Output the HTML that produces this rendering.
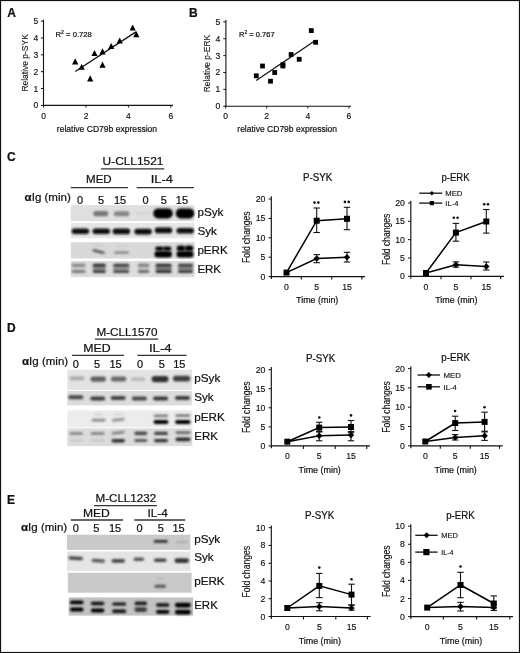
<!DOCTYPE html>
<html><head><meta charset="utf-8"><style>
html,body{margin:0;padding:0;background:#fff;}
svg{display:block;will-change:transform;}
text{font-family:"Liberation Sans",sans-serif;fill:#111;stroke:#111;stroke-width:0.22px;}
text.s{stroke-width:0.15px;}
text.m{stroke-width:0.12px;}
</style></head><body>
<svg width="520" height="653" viewBox="0 0 520 653">
<defs><filter id="b10" x="-50%" y="-100%" width="200%" height="300%"><feGaussianBlur stdDeviation="1.0"/></filter><filter id="b11" x="-50%" y="-100%" width="200%" height="300%"><feGaussianBlur stdDeviation="1.1"/></filter><filter id="b8" x="-50%" y="-100%" width="200%" height="300%"><feGaussianBlur stdDeviation="0.8"/></filter><filter id="b9" x="-50%" y="-100%" width="200%" height="300%"><feGaussianBlur stdDeviation="0.9"/></filter></defs>
<rect x="0" y="0" width="520" height="653" fill="#fff"/>
<text x="7.2" y="16.8" font-size="12" font-weight="bold">A</text>
<text x="189.1" y="16.7" font-size="12" font-weight="bold">B</text>
<text x="6.9" y="160.9" font-size="12" font-weight="bold">C</text>
<text x="6.9" y="331.5" font-size="12" font-weight="bold">D</text>
<text x="6.9" y="503.8" font-size="12" font-weight="bold">E</text>
<line x1="43.5" y1="19.6" x2="43.5" y2="105.9" stroke="#111" stroke-width="1.1"/>
<line x1="43" y1="105.4" x2="173" y2="105.4" stroke="#111" stroke-width="1.1"/>
<line x1="40.9" y1="105.4" x2="43.5" y2="105.4" stroke="#111" stroke-width="1"/>
<text x="38.2" y="108.4" font-size="8.5" class="s" text-anchor="end">0</text>
<line x1="40.9" y1="88.54" x2="43.5" y2="88.54" stroke="#111" stroke-width="1"/>
<text x="38.2" y="91.54" font-size="8.5" class="s" text-anchor="end">1</text>
<line x1="40.9" y1="71.68" x2="43.5" y2="71.68" stroke="#111" stroke-width="1"/>
<text x="38.2" y="74.68" font-size="8.5" class="s" text-anchor="end">2</text>
<line x1="40.9" y1="54.82" x2="43.5" y2="54.82" stroke="#111" stroke-width="1"/>
<text x="38.2" y="57.82" font-size="8.5" class="s" text-anchor="end">3</text>
<line x1="40.9" y1="37.96" x2="43.5" y2="37.96" stroke="#111" stroke-width="1"/>
<text x="38.2" y="40.96" font-size="8.5" class="s" text-anchor="end">4</text>
<line x1="40.9" y1="21.1" x2="43.5" y2="21.1" stroke="#111" stroke-width="1"/>
<text x="38.2" y="24.1" font-size="8.5" class="s" text-anchor="end">5</text>
<line x1="43.6" y1="105.4" x2="43.6" y2="107.6" stroke="#111" stroke-width="1"/>
<text x="43.6" y="118.9" font-size="8.5" class="s" text-anchor="middle">0</text>
<line x1="86" y1="105.4" x2="86" y2="107.6" stroke="#111" stroke-width="1"/>
<text x="86" y="118.9" font-size="8.5" class="s" text-anchor="middle">2</text>
<line x1="128.4" y1="105.4" x2="128.4" y2="107.6" stroke="#111" stroke-width="1"/>
<text x="128.4" y="118.9" font-size="8.5" class="s" text-anchor="middle">4</text>
<line x1="170.8" y1="105.4" x2="170.8" y2="107.6" stroke="#111" stroke-width="1"/>
<text x="170.8" y="118.9" font-size="8.5" class="s" text-anchor="middle">6</text>
<text transform="translate(27.8 62.9) rotate(-90)" x="0" y="0" font-size="9.8" text-anchor="middle" class="m" textLength="57.4" lengthAdjust="spacingAndGlyphs">Relative p-SYK</text>
<text x="106.95" y="132.2" font-size="9.7" text-anchor="middle" textLength="100.3" lengthAdjust="spacingAndGlyphs">relative CD79b expression</text>
<text x="55.6" y="36.7" font-size="7.4" textLength="36.2" lengthAdjust="spacingAndGlyphs">R<tspan font-size="5" dy="-3">2</tspan><tspan dy="3"> = 0.728</tspan></text>
<line x1="75.2" y1="71.5" x2="135.9" y2="31.9" stroke="#111" stroke-width="1.3"/>
<path d="M75.2 58.3L78.3 64.4L72.1 64.4Z" fill="#000"/>
<path d="M81.7 63.7L84.8 69.8L78.6 69.8Z" fill="#000"/>
<path d="M90.2 75.3L93.3 81.4L87.1 81.4Z" fill="#000"/>
<path d="M94.5 50L97.6 56.1L91.4 56.1Z" fill="#000"/>
<path d="M102.5 48.3L105.6 54.4L99.4 54.4Z" fill="#000"/>
<path d="M102.5 61.6L105.6 67.7L99.4 67.7Z" fill="#000"/>
<path d="M111.2 42.9L114.3 49L108.1 49Z" fill="#000"/>
<path d="M119.7 37.4L122.8 43.5L116.6 43.5Z" fill="#000"/>
<path d="M132.7 24.4L135.8 30.5L129.6 30.5Z" fill="#000"/>
<path d="M136.3 31.1L139.4 37.2L133.2 37.2Z" fill="#000"/>
<line x1="225.9" y1="19.9" x2="225.9" y2="106.7" stroke="#111" stroke-width="1.1"/>
<line x1="225.4" y1="106.2" x2="351" y2="106.2" stroke="#111" stroke-width="1.1"/>
<line x1="223.3" y1="106.2" x2="225.9" y2="106.2" stroke="#111" stroke-width="1"/>
<text x="220.3" y="109.2" font-size="8.5" class="s" text-anchor="end">0</text>
<line x1="223.3" y1="89.34" x2="225.9" y2="89.34" stroke="#111" stroke-width="1"/>
<text x="220.3" y="92.34" font-size="8.5" class="s" text-anchor="end">1</text>
<line x1="223.3" y1="72.48" x2="225.9" y2="72.48" stroke="#111" stroke-width="1"/>
<text x="220.3" y="75.48" font-size="8.5" class="s" text-anchor="end">2</text>
<line x1="223.3" y1="55.62" x2="225.9" y2="55.62" stroke="#111" stroke-width="1"/>
<text x="220.3" y="58.62" font-size="8.5" class="s" text-anchor="end">3</text>
<line x1="223.3" y1="38.76" x2="225.9" y2="38.76" stroke="#111" stroke-width="1"/>
<text x="220.3" y="41.76" font-size="8.5" class="s" text-anchor="end">4</text>
<line x1="223.3" y1="21.9" x2="225.9" y2="21.9" stroke="#111" stroke-width="1"/>
<text x="220.3" y="24.9" font-size="8.5" class="s" text-anchor="end">5</text>
<line x1="225.6" y1="106.2" x2="225.6" y2="108.4" stroke="#111" stroke-width="1"/>
<text x="225.6" y="118.9" font-size="8.5" class="s" text-anchor="middle">0</text>
<line x1="266.7" y1="106.2" x2="266.7" y2="108.4" stroke="#111" stroke-width="1"/>
<text x="266.7" y="118.9" font-size="8.5" class="s" text-anchor="middle">2</text>
<line x1="307.8" y1="106.2" x2="307.8" y2="108.4" stroke="#111" stroke-width="1"/>
<text x="307.8" y="118.9" font-size="8.5" class="s" text-anchor="middle">4</text>
<line x1="348.9" y1="106.2" x2="348.9" y2="108.4" stroke="#111" stroke-width="1"/>
<text x="348.9" y="118.9" font-size="8.5" class="s" text-anchor="middle">6</text>
<text transform="translate(209.5 63.6) rotate(-90)" x="0" y="0" font-size="9.8" text-anchor="middle" class="m" textLength="57.5" lengthAdjust="spacingAndGlyphs">Relative p-ERK</text>
<text x="287.2" y="132.2" font-size="9.7" text-anchor="middle" textLength="99.8" lengthAdjust="spacingAndGlyphs">relative CD79b expression</text>
<text x="239" y="36.7" font-size="7.4" textLength="35.6" lengthAdjust="spacingAndGlyphs">R<tspan font-size="5" dy="-3">2</tspan><tspan dy="3"> = 0.767</tspan></text>
<line x1="256.2" y1="80.5" x2="314.2" y2="41.2" stroke="#111" stroke-width="1.3"/>
<rect x="253.9" y="73.4" width="4.8" height="4.8" fill="#000"/>
<rect x="260.1" y="63.6" width="4.8" height="4.8" fill="#000"/>
<rect x="268.1" y="78.8" width="4.8" height="4.8" fill="#000"/>
<rect x="272.3" y="70.1" width="4.8" height="4.8" fill="#000"/>
<rect x="280.5" y="62.3" width="4.8" height="4.8" fill="#000"/>
<rect x="280.5" y="63.6" width="4.8" height="4.8" fill="#000"/>
<rect x="288.7" y="52.1" width="4.8" height="4.8" fill="#000"/>
<rect x="296.8" y="56.9" width="4.8" height="4.8" fill="#000"/>
<rect x="308.9" y="28.2" width="4.8" height="4.8" fill="#000"/>
<rect x="313.2" y="39.9" width="4.8" height="4.8" fill="#000"/>
<text x="133" y="165" font-size="11" text-anchor="middle" textLength="60.8" lengthAdjust="spacingAndGlyphs">U-CLL1521</text>
<line x1="101.1" y1="168.8" x2="164.2" y2="168.8" stroke="#333" stroke-width="1.3"/>
<text x="98.85" y="183.3" font-size="11" text-anchor="middle" textLength="25.7" lengthAdjust="spacingAndGlyphs">MED</text>
<text x="161.9" y="183.3" font-size="11" text-anchor="middle" textLength="22.2" lengthAdjust="spacingAndGlyphs">IL-4</text>
<line x1="70.8" y1="187.6" x2="127.9" y2="187.6" stroke="#333" stroke-width="1.3"/>
<line x1="136.7" y1="187.6" x2="193.8" y2="187.6" stroke="#333" stroke-width="1.3"/>
<text x="80" y="203.8" font-size="11" text-anchor="middle">0</text>
<text x="101" y="203.8" font-size="11" text-anchor="middle">5</text>
<text x="120" y="203.8" font-size="11" text-anchor="middle">15</text>
<text x="145.6" y="203.8" font-size="11" text-anchor="middle">0</text>
<text x="163.8" y="203.8" font-size="11" text-anchor="middle">5</text>
<text x="181.9" y="203.8" font-size="11" text-anchor="middle">15</text>
<text x="24.6" y="200.8" font-size="11.4" textLength="46.2" lengthAdjust="spacingAndGlyphs"><tspan font-weight="bold">&#945;</tspan>Ig (min)</text>
<rect x="70.8" y="205.2" width="123.6" height="16" fill="#dfdfdf"/>
<rect x="70.8" y="223" width="123.6" height="15.2" fill="#e6e6e6"/>
<rect x="70.8" y="242.2" width="123.8" height="16.3" fill="#d9d9d9"/>
<rect x="70.8" y="261" width="123.8" height="16.2" fill="#dddddd"/>
<rect x="93.3" y="211" width="15" height="5.2" rx="2.6" fill="#767676" filter="url(#b11)"/>
<rect x="113.85" y="211.2" width="15.5" height="5" rx="2.5" fill="#848484" filter="url(#b11)"/>
<rect x="153.25" y="208.4" width="19.5" height="10" rx="5" fill="#040404" filter="url(#b10)"/>
<rect x="175.75" y="208.4" width="18.5" height="10" rx="5" fill="#040404" filter="url(#b10)"/>
<rect x="136.5" y="212.1" width="13" height="3" rx="1.5" fill="#d4d4d4" filter="url(#b8)"/>
<rect x="71.65" y="228.4" width="17.5" height="5.6" rx="2.8" fill="#080808" filter="url(#b8)"/>
<rect x="92.55" y="228.4" width="17.5" height="5.6" rx="2.8" fill="#080808" filter="url(#b8)"/>
<rect x="112.65" y="228.6" width="17.5" height="5.6" rx="2.8" fill="#080808" filter="url(#b8)"/>
<rect x="134.35" y="228.8" width="17.5" height="5.6" rx="2.8" fill="#080808" filter="url(#b8)"/>
<rect x="154.75" y="227.6" width="17.5" height="5.6" rx="2.8" fill="#080808" filter="url(#b8)"/>
<rect x="176.45" y="228" width="17.5" height="5.6" rx="2.8" fill="#080808" filter="url(#b8)"/>
<rect x="92.35" y="250.2" width="12.5" height="2.8" rx="1.4" fill="#5a5a5a" filter="url(#b8)" transform="rotate(14 98.6 251.6)"/>
<rect x="93.6" y="244.8" width="10" height="1.6" rx="0.8" fill="#c8c8c8" filter="url(#b8)"/>
<rect x="114.1" y="251.2" width="15" height="2.8" rx="1.4" fill="#909090" filter="url(#b8)"/>
<rect x="116.6" y="245.6" width="10" height="1.6" rx="0.8" fill="#cacaca" filter="url(#b8)"/>
<rect x="155.25" y="246.4" width="8.5" height="4.4" rx="2.2" fill="#050505" filter="url(#b10)"/>
<rect x="162.95" y="246.4" width="8.5" height="4.4" rx="2.2" fill="#050505" filter="url(#b10)"/>
<rect x="154.45" y="251" width="17.5" height="6.4" rx="3.2" fill="#030303" filter="url(#b10)"/>
<rect x="176.75" y="245.4" width="8.5" height="5.6" rx="2.8" fill="#030303" filter="url(#b10)"/>
<rect x="184.75" y="245.4" width="8.5" height="5.6" rx="2.8" fill="#030303" filter="url(#b10)"/>
<rect x="176.5" y="250.9" width="17" height="6.6" rx="3.3" fill="#030303" filter="url(#b10)"/>
<rect x="71.6" y="265.8" width="14" height="5" rx="2.5" fill="#d0d0d0" filter="url(#b10)"/>
<rect x="71.6" y="263.8" width="14" height="3" rx="1.5" fill="#808080" filter="url(#b8)"/>
<rect x="71.6" y="269.9" width="14" height="3" rx="1.5" fill="#7a7a7a" filter="url(#b8)"/>
<rect x="92.8" y="265.8" width="13" height="5" rx="2.5" fill="#909090" filter="url(#b10)"/>
<rect x="92.8" y="263.8" width="13" height="3" rx="1.5" fill="#2a2a2a" filter="url(#b8)"/>
<rect x="92.8" y="269.9" width="13" height="3" rx="1.5" fill="#3a3a3a" filter="url(#b8)"/>
<rect x="113.2" y="265.8" width="16" height="5" rx="2.5" fill="#999" filter="url(#b10)"/>
<rect x="113.2" y="263.8" width="16" height="3" rx="1.5" fill="#3a3a3a" filter="url(#b8)"/>
<rect x="113.2" y="269.9" width="16" height="3" rx="1.5" fill="#4a4a4a" filter="url(#b8)"/>
<rect x="137.85" y="265.8" width="11.5" height="5" rx="2.5" fill="#c8c8c8" filter="url(#b10)"/>
<rect x="137.85" y="263.8" width="11.5" height="3" rx="1.5" fill="#7a7a7a" filter="url(#b8)"/>
<rect x="137.85" y="269.9" width="11.5" height="3" rx="1.5" fill="#6a6a6a" filter="url(#b8)"/>
<rect x="155.6" y="265.8" width="16" height="5" rx="2.5" fill="#808080" filter="url(#b10)"/>
<rect x="155.6" y="263.8" width="16" height="3" rx="1.5" fill="#2c2c2c" filter="url(#b8)"/>
<rect x="155.6" y="269.9" width="16" height="3" rx="1.5" fill="#2c2c2c" filter="url(#b8)"/>
<rect x="178" y="265.8" width="15" height="5" rx="2.5" fill="#858585" filter="url(#b10)"/>
<rect x="178" y="263.8" width="15" height="3" rx="1.5" fill="#3a3a3a" filter="url(#b8)"/>
<rect x="178" y="269.9" width="15" height="3" rx="1.5" fill="#3a3a3a" filter="url(#b8)"/>
<text x="197.4" y="216" font-size="11.4" textLength="26" lengthAdjust="spacingAndGlyphs">pSyk</text>
<text x="197.4" y="235" font-size="11.4" textLength="19.4" lengthAdjust="spacingAndGlyphs">Syk</text>
<text x="197.4" y="254" font-size="11.4" textLength="30.4" lengthAdjust="spacingAndGlyphs">pERK</text>
<text x="197.4" y="272.8" font-size="11.4" textLength="23.6" lengthAdjust="spacingAndGlyphs">ERK</text>
<text x="127" y="336.2" font-size="11" text-anchor="middle" textLength="61" lengthAdjust="spacingAndGlyphs">M-CLL1570</text>
<line x1="95" y1="339.2" x2="158.3" y2="339.2" stroke="#333" stroke-width="1.3"/>
<text x="96.9" y="352.2" font-size="11" text-anchor="middle" textLength="27.4" lengthAdjust="spacingAndGlyphs">MED</text>
<text x="160.3" y="352.2" font-size="11" text-anchor="middle" textLength="22.8" lengthAdjust="spacingAndGlyphs">IL-4</text>
<line x1="72.1" y1="355.4" x2="123.9" y2="355.4" stroke="#333" stroke-width="1.3"/>
<line x1="137.4" y1="355.4" x2="186.5" y2="355.4" stroke="#333" stroke-width="1.3"/>
<text x="75.8" y="367.6" font-size="11" text-anchor="middle">0</text>
<text x="97" y="367.6" font-size="11" text-anchor="middle">5</text>
<text x="115.6" y="367.6" font-size="11" text-anchor="middle">15</text>
<text x="140.1" y="367.6" font-size="11" text-anchor="middle">0</text>
<text x="161.9" y="367.6" font-size="11" text-anchor="middle">5</text>
<text x="179.3" y="367.6" font-size="11" text-anchor="middle">15</text>
<text x="22" y="364.8" font-size="11.4" textLength="46.2" lengthAdjust="spacingAndGlyphs"><tspan font-weight="bold">&#945;</tspan>Ig (min)</text>
<rect x="67.4" y="369.7" width="124.4" height="20.2" fill="#e3e3e3"/>
<rect x="67.4" y="391" width="124.4" height="14.4" fill="#dcdcdc"/>
<rect x="67.4" y="410.3" width="124.9" height="17" fill="#ececec"/>
<rect x="67.4" y="428.3" width="124.9" height="17.8" fill="#dcdcdc"/>
<rect x="69.5" y="376.4" width="15" height="3.8" rx="1.9" fill="#a8a8a8" filter="url(#b10)"/>
<rect x="90.45" y="376.5" width="15.5" height="5.2" rx="2.6" fill="#5e5e5e" filter="url(#b10)"/>
<rect x="110.85" y="376.5" width="15.5" height="5" rx="2.5" fill="#686868" filter="url(#b10)"/>
<rect x="130.75" y="377.5" width="14.5" height="3.6" rx="1.8" fill="#bababa" filter="url(#b10)"/>
<rect x="151.6" y="376" width="17" height="6.2" rx="3.1" fill="#303030" filter="url(#b10)"/>
<rect x="172.85" y="375.7" width="17.5" height="5.8" rx="2.9" fill="#404040" filter="url(#b10)"/>
<rect x="68.3" y="395.2" width="15" height="4" rx="2" fill="#444" filter="url(#b8)"/>
<rect x="90.2" y="396.4" width="15" height="4" rx="2" fill="#3c3c3c" filter="url(#b8)"/>
<rect x="110.7" y="396" width="15" height="4" rx="2" fill="#424242" filter="url(#b8)"/>
<rect x="131.9" y="396.6" width="15" height="4" rx="2" fill="#464646" filter="url(#b8)"/>
<rect x="153.1" y="396.4" width="15" height="4" rx="2" fill="#383838" filter="url(#b8)"/>
<rect x="175" y="396" width="15" height="4" rx="2" fill="#3c3c3c" filter="url(#b8)"/>
<rect x="91.6" y="418.8" width="14" height="2.8" rx="1.4" fill="#8a8a8a" filter="url(#b8)"/>
<rect x="93.6" y="413.6" width="10" height="1.6" rx="0.8" fill="#cdcdcd" filter="url(#b8)"/>
<rect x="111.8" y="418.4" width="13" height="2.8" rx="1.4" fill="#8e8e8e" filter="url(#b8)" transform="rotate(-6 118.3 419.8)"/>
<rect x="113.3" y="413.4" width="10" height="1.6" rx="0.8" fill="#cdcdcd" filter="url(#b8)"/>
<rect x="153.75" y="414.4" width="14.5" height="2.8" rx="1.4" fill="#7c7c7c" filter="url(#b8)"/>
<rect x="153.5" y="419.9" width="15" height="4.2" rx="2.1" fill="#050505" filter="url(#b8)"/>
<rect x="175.3" y="414.2" width="15" height="2.8" rx="1.4" fill="#7c7c7c" filter="url(#b8)"/>
<rect x="175.05" y="419.9" width="15.5" height="4.2" rx="2.1" fill="#050505" filter="url(#b8)"/>
<rect x="69.45" y="431.9" width="13.5" height="3" rx="1.5" fill="#8a8a8a" filter="url(#b8)"/>
<rect x="69.45" y="439" width="13.5" height="2.6" rx="1.3" fill="#c8c8c8" filter="url(#b8)"/>
<rect x="90.6" y="431.9" width="14" height="3" rx="1.5" fill="#888" filter="url(#b8)"/>
<rect x="90.6" y="439" width="14" height="2.6" rx="1.3" fill="#c6c6c6" filter="url(#b8)"/>
<rect x="111.7" y="431.5" width="13" height="2.6" rx="1.3" fill="#7a7a7a" filter="url(#b8)" transform="rotate(-6 118.2 432.8)"/>
<rect x="111.45" y="439" width="13.5" height="3.6" rx="1.8" fill="#2e2e2e" filter="url(#b8)"/>
<rect x="134.3" y="431.6" width="13" height="3.6" rx="1.8" fill="#4c4c4c" filter="url(#b8)"/>
<rect x="134.3" y="439" width="13" height="3" rx="1.5" fill="#565656" filter="url(#b8)"/>
<rect x="154" y="431.8" width="14" height="3.2" rx="1.6" fill="#404040" filter="url(#b8)"/>
<rect x="154" y="438.9" width="14" height="3.4" rx="1.7" fill="#303030" filter="url(#b8)"/>
<rect x="175.5" y="431.2" width="15" height="2.8" rx="1.4" fill="#666" filter="url(#b8)"/>
<rect x="175.5" y="437.6" width="15" height="3.6" rx="1.8" fill="#2a2a2a" filter="url(#b8)"/>
<text x="194.3" y="381.9" font-size="11.4" textLength="26" lengthAdjust="spacingAndGlyphs">pSyk</text>
<text x="194.3" y="401" font-size="11.4" textLength="19.4" lengthAdjust="spacingAndGlyphs">Syk</text>
<text x="194.3" y="421.2" font-size="11.4" textLength="30.4" lengthAdjust="spacingAndGlyphs">pERK</text>
<text x="194.3" y="440.4" font-size="11.4" textLength="23.6" lengthAdjust="spacingAndGlyphs">ERK</text>
<text x="125.8" y="501.6" font-size="11" text-anchor="middle" textLength="60.6" lengthAdjust="spacingAndGlyphs">M-CLL1232</text>
<line x1="94" y1="505.7" x2="156.9" y2="505.7" stroke="#333" stroke-width="1.3"/>
<text x="96.35" y="516.9" font-size="11" text-anchor="middle" textLength="26.9" lengthAdjust="spacingAndGlyphs">MED</text>
<text x="157.6" y="516.9" font-size="11" text-anchor="middle" textLength="20.2" lengthAdjust="spacingAndGlyphs">IL-4</text>
<line x1="70.8" y1="520" x2="123.1" y2="520" stroke="#333" stroke-width="1.3"/>
<line x1="134.3" y1="520" x2="185.2" y2="520" stroke="#333" stroke-width="1.3"/>
<text x="75.8" y="531.7" font-size="11" text-anchor="middle">0</text>
<text x="96.4" y="531.7" font-size="11" text-anchor="middle">5</text>
<text x="115" y="531.7" font-size="11" text-anchor="middle">15</text>
<text x="139.5" y="531.7" font-size="11" text-anchor="middle">0</text>
<text x="160.8" y="531.7" font-size="11" text-anchor="middle">5</text>
<text x="178.5" y="531.7" font-size="11" text-anchor="middle">15</text>
<text x="21" y="530.6" font-size="11.4" textLength="46.2" lengthAdjust="spacingAndGlyphs"><tspan font-weight="bold">&#945;</tspan>Ig (min)</text>
<rect x="67" y="534.7" width="123.3" height="15.2" fill="#c9c9c9"/>
<rect x="67" y="551.5" width="123.3" height="19.5" fill="#e5e5e5"/>
<rect x="67.8" y="572.7" width="123.8" height="20" fill="#c9c9c9"/>
<rect x="68.7" y="597.4" width="124.3" height="18.2" fill="#c2c2c2"/>
<rect x="153.8" y="540.1" width="14" height="2.6" rx="1.3" fill="#2e2e2e" filter="url(#b8)"/>
<rect x="176.05" y="541.2" width="11.5" height="1.8" rx="0.9" fill="#a8a8a8" filter="url(#b8)"/>
<rect x="68.55" y="556.5" width="14.5" height="3.6" rx="1.8" fill="#4a4a4a" filter="url(#b9)" transform="rotate(3 75.8 558.3)"/>
<rect x="91.55" y="559" width="13.5" height="3.4" rx="1.7" fill="#5a5a5a" filter="url(#b9)" transform="rotate(4 98.3 560.7)"/>
<rect x="111.55" y="559.1" width="13.5" height="3.6" rx="1.8" fill="#464646" filter="url(#b9)"/>
<rect x="133.55" y="557.6" width="10.5" height="3.4" rx="1.7" fill="#5a5a5a" filter="url(#b9)"/>
<rect x="153.95" y="558.6" width="12.5" height="3.4" rx="1.7" fill="#444" filter="url(#b9)"/>
<rect x="174.55" y="558.2" width="14.5" height="4.8" rx="2.4" fill="#363636" filter="url(#b9)"/>
<rect x="154.45" y="584.8" width="11.5" height="3" rx="1.5" fill="#555" filter="url(#b8)"/>
<rect x="156.2" y="577.8" width="8" height="1.6" rx="0.8" fill="#b5b5b5" filter="url(#b8)"/>
<rect x="70.05" y="600.5" width="13.5" height="3.8" rx="1.9" fill="#060606" filter="url(#b8)"/>
<rect x="70.05" y="607.6" width="13.5" height="3.8" rx="1.9" fill="#060606" filter="url(#b8)"/>
<rect x="90.85" y="601.8" width="13.5" height="3.4" rx="1.7" fill="#0a0a0a" filter="url(#b8)"/>
<rect x="90.85" y="608.6" width="13.5" height="3.8" rx="1.9" fill="#060606" filter="url(#b8)"/>
<rect x="112.2" y="602.6" width="14" height="3" rx="1.5" fill="#141414" filter="url(#b8)"/>
<rect x="112.2" y="609.6" width="14" height="3.4" rx="1.7" fill="#0a0a0a" filter="url(#b8)"/>
<rect x="134.55" y="601.5" width="12.5" height="3.8" rx="1.9" fill="#1e1e1e" filter="url(#b8)"/>
<rect x="134.55" y="607.3" width="12.5" height="4.6" rx="2.3" fill="#3a3a3a" filter="url(#b8)"/>
<rect x="156" y="603.3" width="13.4" height="3.4" rx="1.7" fill="#0a0a0a" filter="url(#b8)"/>
<rect x="156" y="609.9" width="13.4" height="3.8" rx="1.9" fill="#060606" filter="url(#b8)"/>
<rect x="174.9" y="602.8" width="16" height="4.6" rx="2.3" fill="#020202" filter="url(#b8)"/>
<rect x="174.9" y="609.8" width="16" height="4.6" rx="2.3" fill="#020202" filter="url(#b8)"/>
<text x="194.2" y="543.3" font-size="11.4" textLength="26" lengthAdjust="spacingAndGlyphs">pSyk</text>
<text x="194.2" y="561.2" font-size="11.4" textLength="19.4" lengthAdjust="spacingAndGlyphs">Syk</text>
<text x="194.2" y="585.1" font-size="11.4" textLength="30.4" lengthAdjust="spacingAndGlyphs">pERK</text>
<text x="194.2" y="609.1" font-size="11.4" textLength="23.6" lengthAdjust="spacingAndGlyphs">ERK</text>
<line x1="271.3" y1="196.3" x2="271.3" y2="279" stroke="#111" stroke-width="1.15"/>
<line x1="270.8" y1="276.6" x2="365.1" y2="276.6" stroke="#111" stroke-width="1.15"/>
<line x1="268.5" y1="276.6" x2="271.3" y2="276.6" stroke="#111" stroke-width="1"/>
<text x="265.3" y="279.6" font-size="8.7" class="s" text-anchor="end">0</text>
<line x1="268.5" y1="257.2" x2="271.3" y2="257.2" stroke="#111" stroke-width="1"/>
<text x="265.3" y="260.2" font-size="8.7" class="s" text-anchor="end">5</text>
<line x1="268.5" y1="237.8" x2="271.3" y2="237.8" stroke="#111" stroke-width="1"/>
<text x="265.3" y="240.8" font-size="8.7" class="s" text-anchor="end">10</text>
<line x1="268.5" y1="218.4" x2="271.3" y2="218.4" stroke="#111" stroke-width="1"/>
<text x="265.3" y="221.4" font-size="8.7" class="s" text-anchor="end">15</text>
<line x1="268.5" y1="199" x2="271.3" y2="199" stroke="#111" stroke-width="1"/>
<text x="265.3" y="202" font-size="8.7" class="s" text-anchor="end">20</text>
<line x1="301.4" y1="276.6" x2="301.4" y2="279.6" stroke="#111" stroke-width="1.1"/>
<line x1="331.7" y1="276.6" x2="331.7" y2="279.6" stroke="#111" stroke-width="1.1"/>
<line x1="361.9" y1="276.6" x2="361.9" y2="279.6" stroke="#111" stroke-width="1.1"/>
<text x="286.5" y="290" font-size="8.7" class="s" text-anchor="middle">0</text>
<text x="316.7" y="290" font-size="8.7" class="s" text-anchor="middle">5</text>
<text x="347" y="290" font-size="8.7" class="s" text-anchor="middle">15</text>
<text x="317.7" y="180.8" font-size="10.6" text-anchor="middle" textLength="29.4" lengthAdjust="spacingAndGlyphs">P-SYK</text>
<text transform="translate(250.3 237.25) rotate(-90)" x="0" y="0" font-size="10.4" text-anchor="middle" class="m" textLength="51.5" lengthAdjust="spacingAndGlyphs">Fold changes</text>
<text x="317.2" y="302.7" font-size="9.9" text-anchor="middle" textLength="42.3" lengthAdjust="spacingAndGlyphs">Time (min)</text>
<line x1="316.7" y1="208" x2="316.7" y2="232.5" stroke="#111" stroke-width="1.1"/>
<line x1="313.5" y1="208" x2="319.9" y2="208" stroke="#111" stroke-width="1.1"/>
<line x1="313.5" y1="232.5" x2="319.9" y2="232.5" stroke="#111" stroke-width="1.1"/>
<line x1="347" y1="207.3" x2="347" y2="229.7" stroke="#111" stroke-width="1.1"/>
<line x1="343.8" y1="207.3" x2="350.2" y2="207.3" stroke="#111" stroke-width="1.1"/>
<line x1="343.8" y1="229.7" x2="350.2" y2="229.7" stroke="#111" stroke-width="1.1"/>
<line x1="316.7" y1="254.6" x2="316.7" y2="262.7" stroke="#111" stroke-width="1.1"/>
<line x1="313.5" y1="254.6" x2="319.9" y2="254.6" stroke="#111" stroke-width="1.1"/>
<line x1="313.5" y1="262.7" x2="319.9" y2="262.7" stroke="#111" stroke-width="1.1"/>
<line x1="347" y1="252.3" x2="347" y2="262" stroke="#111" stroke-width="1.1"/>
<line x1="343.8" y1="252.3" x2="350.2" y2="252.3" stroke="#111" stroke-width="1.1"/>
<line x1="343.8" y1="262" x2="350.2" y2="262" stroke="#111" stroke-width="1.1"/>
<polyline points="286.5,272.6 316.7,220.7 347,218.8" fill="none" stroke="#000" stroke-width="1.5"/>
<polyline points="286.5,272.6 316.7,258.5 347,257.2" fill="none" stroke="#000" stroke-width="1.5"/>
<path d="M316.7 255.3L319.9 258.5L316.7 261.7L313.5 258.5Z" fill="#000"/>
<path d="M347 254L350.2 257.2L347 260.4L343.8 257.2Z" fill="#000"/>
<rect x="283.5" y="269.6" width="6" height="6" fill="#000"/>
<rect x="313.7" y="217.7" width="6" height="6" fill="#000"/>
<rect x="344" y="215.8" width="6" height="6" fill="#000"/>
<circle cx="314.5" cy="202.6" r="1.3" fill="#111"/>
<circle cx="318.3" cy="202.6" r="1.3" fill="#111"/>
<circle cx="344.9" cy="201.9" r="1.3" fill="#111"/>
<circle cx="348.7" cy="201.9" r="1.3" fill="#111"/>
<line x1="410.8" y1="200.8" x2="410.8" y2="278.7" stroke="#111" stroke-width="1.15"/>
<line x1="410.3" y1="276.3" x2="503.9" y2="276.3" stroke="#111" stroke-width="1.15"/>
<line x1="408" y1="276.3" x2="410.8" y2="276.3" stroke="#111" stroke-width="1"/>
<text x="404.8" y="279.3" font-size="8.7" class="s" text-anchor="end">0</text>
<line x1="408" y1="257.98" x2="410.8" y2="257.98" stroke="#111" stroke-width="1"/>
<text x="404.8" y="260.98" font-size="8.7" class="s" text-anchor="end">5</text>
<line x1="408" y1="239.65" x2="410.8" y2="239.65" stroke="#111" stroke-width="1"/>
<text x="404.8" y="242.65" font-size="8.7" class="s" text-anchor="end">10</text>
<line x1="408" y1="221.32" x2="410.8" y2="221.32" stroke="#111" stroke-width="1"/>
<text x="404.8" y="224.32" font-size="8.7" class="s" text-anchor="end">15</text>
<line x1="408" y1="203" x2="410.8" y2="203" stroke="#111" stroke-width="1"/>
<text x="404.8" y="206" font-size="8.7" class="s" text-anchor="end">20</text>
<line x1="441" y1="276.3" x2="441" y2="279.3" stroke="#111" stroke-width="1.1"/>
<line x1="471" y1="276.3" x2="471" y2="279.3" stroke="#111" stroke-width="1.1"/>
<line x1="500.7" y1="276.3" x2="500.7" y2="279.3" stroke="#111" stroke-width="1.1"/>
<text x="426" y="290" font-size="8.7" class="s" text-anchor="middle">0</text>
<text x="455.9" y="290" font-size="8.7" class="s" text-anchor="middle">5</text>
<text x="486.3" y="290" font-size="8.7" class="s" text-anchor="middle">15</text>
<text x="455.5" y="180.8" font-size="10.6" text-anchor="middle" textLength="28" lengthAdjust="spacingAndGlyphs">p-ERK</text>
<text transform="translate(389.8 239.35) rotate(-90)" x="0" y="0" font-size="10.4" text-anchor="middle" class="m" textLength="51.5" lengthAdjust="spacingAndGlyphs">Fold changes</text>
<text x="456.4" y="302.7" font-size="9.9" text-anchor="middle" textLength="42.3" lengthAdjust="spacingAndGlyphs">Time (min)</text>
<line x1="455.9" y1="223.4" x2="455.9" y2="241.2" stroke="#111" stroke-width="1.1"/>
<line x1="452.7" y1="223.4" x2="459.1" y2="223.4" stroke="#111" stroke-width="1.1"/>
<line x1="452.7" y1="241.2" x2="459.1" y2="241.2" stroke="#111" stroke-width="1.1"/>
<line x1="486.3" y1="209.5" x2="486.3" y2="233.1" stroke="#111" stroke-width="1.1"/>
<line x1="483.1" y1="209.5" x2="489.5" y2="209.5" stroke="#111" stroke-width="1.1"/>
<line x1="483.1" y1="233.1" x2="489.5" y2="233.1" stroke="#111" stroke-width="1.1"/>
<line x1="455.9" y1="261.9" x2="455.9" y2="267.2" stroke="#111" stroke-width="1.1"/>
<line x1="452.7" y1="261.9" x2="459.1" y2="261.9" stroke="#111" stroke-width="1.1"/>
<line x1="452.7" y1="267.2" x2="459.1" y2="267.2" stroke="#111" stroke-width="1.1"/>
<line x1="486.3" y1="262" x2="486.3" y2="270" stroke="#111" stroke-width="1.1"/>
<line x1="483.1" y1="262" x2="489.5" y2="262" stroke="#111" stroke-width="1.1"/>
<line x1="483.1" y1="270" x2="489.5" y2="270" stroke="#111" stroke-width="1.1"/>
<polyline points="426,273 455.9,232.6 486.3,221.5" fill="none" stroke="#000" stroke-width="1.5"/>
<polyline points="426,273 455.9,264.7 486.3,266.5" fill="none" stroke="#000" stroke-width="1.5"/>
<path d="M455.9 261.5L459.1 264.7L455.9 267.9L452.7 264.7Z" fill="#000"/>
<path d="M486.3 263.3L489.5 266.5L486.3 269.7L483.1 266.5Z" fill="#000"/>
<rect x="423" y="270" width="6" height="6" fill="#000"/>
<rect x="452.9" y="229.6" width="6" height="6" fill="#000"/>
<rect x="483.3" y="218.5" width="6" height="6" fill="#000"/>
<circle cx="453.8" cy="217.7" r="1.3" fill="#111"/>
<circle cx="457.6" cy="217.7" r="1.3" fill="#111"/>
<circle cx="484.2" cy="204.2" r="1.3" fill="#111"/>
<circle cx="488" cy="204.2" r="1.3" fill="#111"/>
<line x1="419.2" y1="193.2" x2="442.3" y2="193.2" stroke="#111" stroke-width="1.3"/>
<path d="M431.9 191L434.1 193.2L431.9 195.4L429.7 193.2Z" fill="#000"/>
<text x="445.3" y="196.2" font-size="8" class="s" textLength="17.1" lengthAdjust="spacingAndGlyphs">MED</text>
<line x1="419.2" y1="203.1" x2="442.3" y2="203.1" stroke="#111" stroke-width="1.3"/>
<rect x="429.8" y="201" width="4.2" height="4.2" fill="#000"/>
<text x="445.3" y="206.1" font-size="8" class="s" textLength="13.2" lengthAdjust="spacingAndGlyphs">IL-4</text>
<line x1="271.3" y1="366.9" x2="271.3" y2="448.3" stroke="#111" stroke-width="1.15"/>
<line x1="270.8" y1="445.9" x2="370" y2="445.9" stroke="#111" stroke-width="1.15"/>
<line x1="268.5" y1="445.9" x2="271.3" y2="445.9" stroke="#111" stroke-width="1"/>
<text x="265.3" y="448.9" font-size="8.7" class="s" text-anchor="end">0</text>
<line x1="268.5" y1="426.85" x2="271.3" y2="426.85" stroke="#111" stroke-width="1"/>
<text x="265.3" y="429.85" font-size="8.7" class="s" text-anchor="end">5</text>
<line x1="268.5" y1="407.8" x2="271.3" y2="407.8" stroke="#111" stroke-width="1"/>
<text x="265.3" y="410.8" font-size="8.7" class="s" text-anchor="end">10</text>
<line x1="268.5" y1="388.75" x2="271.3" y2="388.75" stroke="#111" stroke-width="1"/>
<text x="265.3" y="391.75" font-size="8.7" class="s" text-anchor="end">15</text>
<line x1="268.5" y1="369.7" x2="271.3" y2="369.7" stroke="#111" stroke-width="1"/>
<text x="265.3" y="372.7" font-size="8.7" class="s" text-anchor="end">20</text>
<line x1="303.4" y1="445.9" x2="303.4" y2="448.9" stroke="#111" stroke-width="1.1"/>
<line x1="335.2" y1="445.9" x2="335.2" y2="448.9" stroke="#111" stroke-width="1.1"/>
<line x1="366.8" y1="445.9" x2="366.8" y2="448.9" stroke="#111" stroke-width="1.1"/>
<text x="287.3" y="459.4" font-size="8.7" class="s" text-anchor="middle">0</text>
<text x="319.2" y="459.4" font-size="8.7" class="s" text-anchor="middle">5</text>
<text x="351" y="459.4" font-size="8.7" class="s" text-anchor="middle">15</text>
<text x="320.6" y="361.7" font-size="10.6" text-anchor="middle" textLength="29.4" lengthAdjust="spacingAndGlyphs">P-SYK</text>
<text transform="translate(250.3 407.2) rotate(-90)" x="0" y="0" font-size="10.4" text-anchor="middle" class="m" textLength="51.5" lengthAdjust="spacingAndGlyphs">Fold changes</text>
<text x="319.7" y="472.6" font-size="9.9" text-anchor="middle" textLength="42.3" lengthAdjust="spacingAndGlyphs">Time (min)</text>
<line x1="319.2" y1="422.3" x2="319.2" y2="431.5" stroke="#111" stroke-width="1.1"/>
<line x1="316" y1="422.3" x2="322.4" y2="422.3" stroke="#111" stroke-width="1.1"/>
<line x1="316" y1="431.5" x2="322.4" y2="431.5" stroke="#111" stroke-width="1.1"/>
<line x1="351" y1="420.5" x2="351" y2="431.5" stroke="#111" stroke-width="1.1"/>
<line x1="347.8" y1="420.5" x2="354.2" y2="420.5" stroke="#111" stroke-width="1.1"/>
<line x1="347.8" y1="431.5" x2="354.2" y2="431.5" stroke="#111" stroke-width="1.1"/>
<line x1="319.2" y1="432" x2="319.2" y2="440.8" stroke="#111" stroke-width="1.1"/>
<line x1="316" y1="432" x2="322.4" y2="432" stroke="#111" stroke-width="1.1"/>
<line x1="316" y1="440.8" x2="322.4" y2="440.8" stroke="#111" stroke-width="1.1"/>
<line x1="351" y1="432.7" x2="351" y2="440.8" stroke="#111" stroke-width="1.1"/>
<line x1="347.8" y1="432.7" x2="354.2" y2="432.7" stroke="#111" stroke-width="1.1"/>
<line x1="347.8" y1="440.8" x2="354.2" y2="440.8" stroke="#111" stroke-width="1.1"/>
<polyline points="287.3,441.7 319.2,427.6 351,427" fill="none" stroke="#000" stroke-width="1.5"/>
<polyline points="287.3,441.7 319.2,435.7 351,435" fill="none" stroke="#000" stroke-width="1.5"/>
<path d="M319.2 432.5L322.4 435.7L319.2 438.9L316 435.7Z" fill="#000"/>
<path d="M351 431.8L354.2 435L351 438.2L347.8 435Z" fill="#000"/>
<rect x="284.3" y="438.7" width="6" height="6" fill="#000"/>
<rect x="316.2" y="424.6" width="6" height="6" fill="#000"/>
<rect x="348" y="424" width="6" height="6" fill="#000"/>
<circle cx="319.3" cy="417.5" r="1.3" fill="#111"/>
<circle cx="351" cy="415.4" r="1.3" fill="#111"/>
<line x1="410.8" y1="366.5" x2="410.8" y2="448.2" stroke="#111" stroke-width="1.15"/>
<line x1="410.3" y1="445.8" x2="502.7" y2="445.8" stroke="#111" stroke-width="1.15"/>
<line x1="408" y1="445.8" x2="410.8" y2="445.8" stroke="#111" stroke-width="1"/>
<text x="404.8" y="448.8" font-size="8.7" class="s" text-anchor="end">0</text>
<line x1="408" y1="426.5" x2="410.8" y2="426.5" stroke="#111" stroke-width="1"/>
<text x="404.8" y="429.5" font-size="8.7" class="s" text-anchor="end">5</text>
<line x1="408" y1="407.2" x2="410.8" y2="407.2" stroke="#111" stroke-width="1"/>
<text x="404.8" y="410.2" font-size="8.7" class="s" text-anchor="end">10</text>
<line x1="408" y1="387.9" x2="410.8" y2="387.9" stroke="#111" stroke-width="1"/>
<text x="404.8" y="390.9" font-size="8.7" class="s" text-anchor="end">15</text>
<line x1="408" y1="368.6" x2="410.8" y2="368.6" stroke="#111" stroke-width="1"/>
<text x="404.8" y="371.6" font-size="8.7" class="s" text-anchor="end">20</text>
<line x1="440.3" y1="445.8" x2="440.3" y2="448.8" stroke="#111" stroke-width="1.1"/>
<line x1="470.3" y1="445.8" x2="470.3" y2="448.8" stroke="#111" stroke-width="1.1"/>
<line x1="499.5" y1="445.8" x2="499.5" y2="448.8" stroke="#111" stroke-width="1.1"/>
<text x="425.3" y="459.4" font-size="8.7" class="s" text-anchor="middle">0</text>
<text x="455.2" y="459.4" font-size="8.7" class="s" text-anchor="middle">5</text>
<text x="484.6" y="459.4" font-size="8.7" class="s" text-anchor="middle">15</text>
<text x="455.6" y="361.2" font-size="10.6" text-anchor="middle" textLength="28.8" lengthAdjust="spacingAndGlyphs">p-ERK</text>
<text transform="translate(389.8 406.95) rotate(-90)" x="0" y="0" font-size="10.4" text-anchor="middle" class="m" textLength="51.5" lengthAdjust="spacingAndGlyphs">Fold changes</text>
<text x="455.7" y="472.6" font-size="9.9" text-anchor="middle" textLength="42.3" lengthAdjust="spacingAndGlyphs">Time (min)</text>
<line x1="455.2" y1="416.2" x2="455.2" y2="430.5" stroke="#111" stroke-width="1.1"/>
<line x1="452" y1="416.2" x2="458.4" y2="416.2" stroke="#111" stroke-width="1.1"/>
<line x1="452" y1="430.5" x2="458.4" y2="430.5" stroke="#111" stroke-width="1.1"/>
<line x1="484.6" y1="412.2" x2="484.6" y2="431.9" stroke="#111" stroke-width="1.1"/>
<line x1="481.4" y1="412.2" x2="487.8" y2="412.2" stroke="#111" stroke-width="1.1"/>
<line x1="481.4" y1="431.9" x2="487.8" y2="431.9" stroke="#111" stroke-width="1.1"/>
<line x1="455.2" y1="434.6" x2="455.2" y2="440" stroke="#111" stroke-width="1.1"/>
<line x1="452" y1="434.6" x2="458.4" y2="434.6" stroke="#111" stroke-width="1.1"/>
<line x1="452" y1="440" x2="458.4" y2="440" stroke="#111" stroke-width="1.1"/>
<line x1="484.6" y1="431.2" x2="484.6" y2="440.4" stroke="#111" stroke-width="1.1"/>
<line x1="481.4" y1="431.2" x2="487.8" y2="431.2" stroke="#111" stroke-width="1.1"/>
<line x1="481.4" y1="440.4" x2="487.8" y2="440.4" stroke="#111" stroke-width="1.1"/>
<polyline points="425.3,441.5 455.2,423.1 484.6,421.9" fill="none" stroke="#000" stroke-width="1.5"/>
<polyline points="425.3,441.5 455.2,437.4 484.6,435.8" fill="none" stroke="#000" stroke-width="1.5"/>
<path d="M455.2 434.2L458.4 437.4L455.2 440.6L452 437.4Z" fill="#000"/>
<path d="M484.6 432.6L487.8 435.8L484.6 439L481.4 435.8Z" fill="#000"/>
<rect x="422.3" y="438.5" width="6" height="6" fill="#000"/>
<rect x="452.2" y="420.1" width="6" height="6" fill="#000"/>
<rect x="481.6" y="418.9" width="6" height="6" fill="#000"/>
<circle cx="455.1" cy="411" r="1.3" fill="#111"/>
<circle cx="484.5" cy="407.2" r="1.3" fill="#111"/>
<line x1="417.6" y1="375" x2="440" y2="375" stroke="#111" stroke-width="1.3"/>
<path d="M428.8 372L431.8 375L428.8 378L425.8 375Z" fill="#000"/>
<text x="443.5" y="378" font-size="8" class="s" textLength="17.3" lengthAdjust="spacingAndGlyphs">MED</text>
<line x1="417.6" y1="386.8" x2="440" y2="386.8" stroke="#111" stroke-width="1.3"/>
<rect x="426.1" y="384" width="5.6" height="5.6" fill="#000"/>
<text x="443.5" y="389.8" font-size="8" class="s" textLength="13.2" lengthAdjust="spacingAndGlyphs">IL-4</text>
<line x1="271.3" y1="525.4" x2="271.3" y2="618.9" stroke="#111" stroke-width="1.15"/>
<line x1="270.8" y1="616.5" x2="370.6" y2="616.5" stroke="#111" stroke-width="1.15"/>
<line x1="268.5" y1="616.5" x2="271.3" y2="616.5" stroke="#111" stroke-width="1"/>
<text x="265.3" y="619.5" font-size="8.7" class="s" text-anchor="end">0</text>
<line x1="268.5" y1="598.74" x2="271.3" y2="598.74" stroke="#111" stroke-width="1"/>
<text x="265.3" y="601.74" font-size="8.7" class="s" text-anchor="end">2</text>
<line x1="268.5" y1="580.98" x2="271.3" y2="580.98" stroke="#111" stroke-width="1"/>
<text x="265.3" y="583.98" font-size="8.7" class="s" text-anchor="end">4</text>
<line x1="268.5" y1="563.22" x2="271.3" y2="563.22" stroke="#111" stroke-width="1"/>
<text x="265.3" y="566.22" font-size="8.7" class="s" text-anchor="end">6</text>
<line x1="268.5" y1="545.46" x2="271.3" y2="545.46" stroke="#111" stroke-width="1"/>
<text x="265.3" y="548.46" font-size="8.7" class="s" text-anchor="end">8</text>
<line x1="268.5" y1="527.7" x2="271.3" y2="527.7" stroke="#111" stroke-width="1"/>
<text x="265.3" y="530.7" font-size="8.7" class="s" text-anchor="end">10</text>
<line x1="303.5" y1="616.5" x2="303.5" y2="619.5" stroke="#111" stroke-width="1.1"/>
<line x1="335.8" y1="616.5" x2="335.8" y2="619.5" stroke="#111" stroke-width="1.1"/>
<line x1="367.4" y1="616.5" x2="367.4" y2="619.5" stroke="#111" stroke-width="1.1"/>
<text x="287.3" y="630.3" font-size="8.7" class="s" text-anchor="middle">0</text>
<text x="319.3" y="630.3" font-size="8.7" class="s" text-anchor="middle">5</text>
<text x="351.5" y="630.3" font-size="8.7" class="s" text-anchor="middle">15</text>
<text x="319.7" y="518.7" font-size="10.6" text-anchor="middle" textLength="29.4" lengthAdjust="spacingAndGlyphs">P-SYK</text>
<text transform="translate(250.3 571.75) rotate(-90)" x="0" y="0" font-size="10.4" text-anchor="middle" class="m" textLength="51.5" lengthAdjust="spacingAndGlyphs">Fold changes</text>
<text x="319.8" y="643.5" font-size="9.9" text-anchor="middle" textLength="42.3" lengthAdjust="spacingAndGlyphs">Time (min)</text>
<line x1="319.3" y1="573.4" x2="319.3" y2="597.6" stroke="#111" stroke-width="1.1"/>
<line x1="316.1" y1="573.4" x2="322.5" y2="573.4" stroke="#111" stroke-width="1.1"/>
<line x1="316.1" y1="597.6" x2="322.5" y2="597.6" stroke="#111" stroke-width="1.1"/>
<line x1="351.5" y1="584.2" x2="351.5" y2="605" stroke="#111" stroke-width="1.1"/>
<line x1="348.3" y1="584.2" x2="354.7" y2="584.2" stroke="#111" stroke-width="1.1"/>
<line x1="348.3" y1="605" x2="354.7" y2="605" stroke="#111" stroke-width="1.1"/>
<line x1="319.3" y1="602.7" x2="319.3" y2="610.8" stroke="#111" stroke-width="1.1"/>
<line x1="316.1" y1="602.7" x2="322.5" y2="602.7" stroke="#111" stroke-width="1.1"/>
<line x1="316.1" y1="610.8" x2="322.5" y2="610.8" stroke="#111" stroke-width="1.1"/>
<line x1="351.5" y1="605" x2="351.5" y2="610.1" stroke="#111" stroke-width="1.1"/>
<line x1="348.3" y1="605" x2="354.7" y2="605" stroke="#111" stroke-width="1.1"/>
<line x1="348.3" y1="610.1" x2="354.7" y2="610.1" stroke="#111" stroke-width="1.1"/>
<polyline points="287.3,608 319.3,585.9 351.5,594.6" fill="none" stroke="#000" stroke-width="1.5"/>
<polyline points="287.3,608 319.3,606.6 351.5,608" fill="none" stroke="#000" stroke-width="1.5"/>
<path d="M319.3 603.4L322.5 606.6L319.3 609.8L316.1 606.6Z" fill="#000"/>
<path d="M351.5 604.8L354.7 608L351.5 611.2L348.3 608Z" fill="#000"/>
<rect x="284.3" y="605" width="6" height="6" fill="#000"/>
<rect x="316.3" y="582.9" width="6" height="6" fill="#000"/>
<rect x="348.5" y="591.6" width="6" height="6" fill="#000"/>
<circle cx="319.3" cy="567.6" r="1.3" fill="#111"/>
<circle cx="351.5" cy="579.2" r="1.3" fill="#111"/>
<line x1="410.8" y1="524.3" x2="410.8" y2="619" stroke="#111" stroke-width="1.15"/>
<line x1="410.3" y1="616.6" x2="513" y2="616.6" stroke="#111" stroke-width="1.15"/>
<line x1="408" y1="616.6" x2="410.8" y2="616.6" stroke="#111" stroke-width="1"/>
<text x="404.8" y="619.6" font-size="8.7" class="s" text-anchor="end">0</text>
<line x1="408" y1="598.52" x2="410.8" y2="598.52" stroke="#111" stroke-width="1"/>
<text x="404.8" y="601.52" font-size="8.7" class="s" text-anchor="end">2</text>
<line x1="408" y1="580.44" x2="410.8" y2="580.44" stroke="#111" stroke-width="1"/>
<text x="404.8" y="583.44" font-size="8.7" class="s" text-anchor="end">4</text>
<line x1="408" y1="562.36" x2="410.8" y2="562.36" stroke="#111" stroke-width="1"/>
<text x="404.8" y="565.36" font-size="8.7" class="s" text-anchor="end">6</text>
<line x1="408" y1="544.28" x2="410.8" y2="544.28" stroke="#111" stroke-width="1"/>
<text x="404.8" y="547.28" font-size="8.7" class="s" text-anchor="end">8</text>
<line x1="408" y1="526.2" x2="410.8" y2="526.2" stroke="#111" stroke-width="1"/>
<text x="404.8" y="529.2" font-size="8.7" class="s" text-anchor="end">10</text>
<line x1="443.4" y1="616.6" x2="443.4" y2="619.6" stroke="#111" stroke-width="1.1"/>
<line x1="476.6" y1="616.6" x2="476.6" y2="619.6" stroke="#111" stroke-width="1.1"/>
<line x1="509.8" y1="616.6" x2="509.8" y2="619.6" stroke="#111" stroke-width="1.1"/>
<text x="427.2" y="630.3" font-size="8.7" class="s" text-anchor="middle">0</text>
<text x="460.5" y="630.3" font-size="8.7" class="s" text-anchor="middle">5</text>
<text x="493.8" y="630.3" font-size="8.7" class="s" text-anchor="middle">15</text>
<text x="460.4" y="518.5" font-size="10.6" text-anchor="middle" textLength="28.4" lengthAdjust="spacingAndGlyphs">p-ERK</text>
<text transform="translate(389.8 571.25) rotate(-90)" x="0" y="0" font-size="10.4" text-anchor="middle" class="m" textLength="51.5" lengthAdjust="spacingAndGlyphs">Fold changes</text>
<text x="461" y="643.5" font-size="9.9" text-anchor="middle" textLength="42.3" lengthAdjust="spacingAndGlyphs">Time (min)</text>
<line x1="460.5" y1="572.3" x2="460.5" y2="597.7" stroke="#111" stroke-width="1.1"/>
<line x1="457.3" y1="572.3" x2="463.7" y2="572.3" stroke="#111" stroke-width="1.1"/>
<line x1="457.3" y1="597.7" x2="463.7" y2="597.7" stroke="#111" stroke-width="1.1"/>
<line x1="493.8" y1="595.9" x2="493.8" y2="608" stroke="#111" stroke-width="1.1"/>
<line x1="490.6" y1="595.9" x2="497" y2="595.9" stroke="#111" stroke-width="1.1"/>
<line x1="490.6" y1="608" x2="497" y2="608" stroke="#111" stroke-width="1.1"/>
<line x1="460.5" y1="602.3" x2="460.5" y2="611" stroke="#111" stroke-width="1.1"/>
<line x1="457.3" y1="602.3" x2="463.7" y2="602.3" stroke="#111" stroke-width="1.1"/>
<line x1="457.3" y1="611" x2="463.7" y2="611" stroke="#111" stroke-width="1.1"/>
<line x1="493.8" y1="604.2" x2="493.8" y2="610.4" stroke="#111" stroke-width="1.1"/>
<line x1="490.6" y1="604.2" x2="497" y2="604.2" stroke="#111" stroke-width="1.1"/>
<line x1="490.6" y1="610.4" x2="497" y2="610.4" stroke="#111" stroke-width="1.1"/>
<polyline points="427.2,607.6 460.5,585 493.8,603.5" fill="none" stroke="#000" stroke-width="1.5"/>
<polyline points="427.2,607.6 460.5,606.5 493.8,607.6" fill="none" stroke="#000" stroke-width="1.5"/>
<path d="M460.5 603.3L463.7 606.5L460.5 609.7L457.3 606.5Z" fill="#000"/>
<path d="M493.8 604.4L497 607.6L493.8 610.8L490.6 607.6Z" fill="#000"/>
<rect x="424.2" y="604.6" width="6" height="6" fill="#000"/>
<rect x="457.5" y="582" width="6" height="6" fill="#000"/>
<rect x="490.8" y="600.5" width="6" height="6" fill="#000"/>
<circle cx="460.5" cy="566.5" r="1.3" fill="#111"/>
<line x1="415.3" y1="535.3" x2="437.6" y2="535.3" stroke="#111" stroke-width="1.3"/>
<path d="M426.6 532.3L429.6 535.3L426.6 538.3L423.6 535.3Z" fill="#000"/>
<text x="441.2" y="538.3" font-size="8" class="s" textLength="16.6" lengthAdjust="spacingAndGlyphs">MED</text>
<line x1="415.3" y1="552.1" x2="437.6" y2="552.1" stroke="#111" stroke-width="1.3"/>
<rect x="423.3" y="549" width="6.2" height="6.2" fill="#000"/>
<text x="441.2" y="555.1" font-size="8" class="s" textLength="12.4" lengthAdjust="spacingAndGlyphs">IL-4</text>
<rect x="0.5" y="0.5" width="519" height="652" fill="none" stroke="#111" stroke-width="1.2"/>
</svg>
</body></html>
